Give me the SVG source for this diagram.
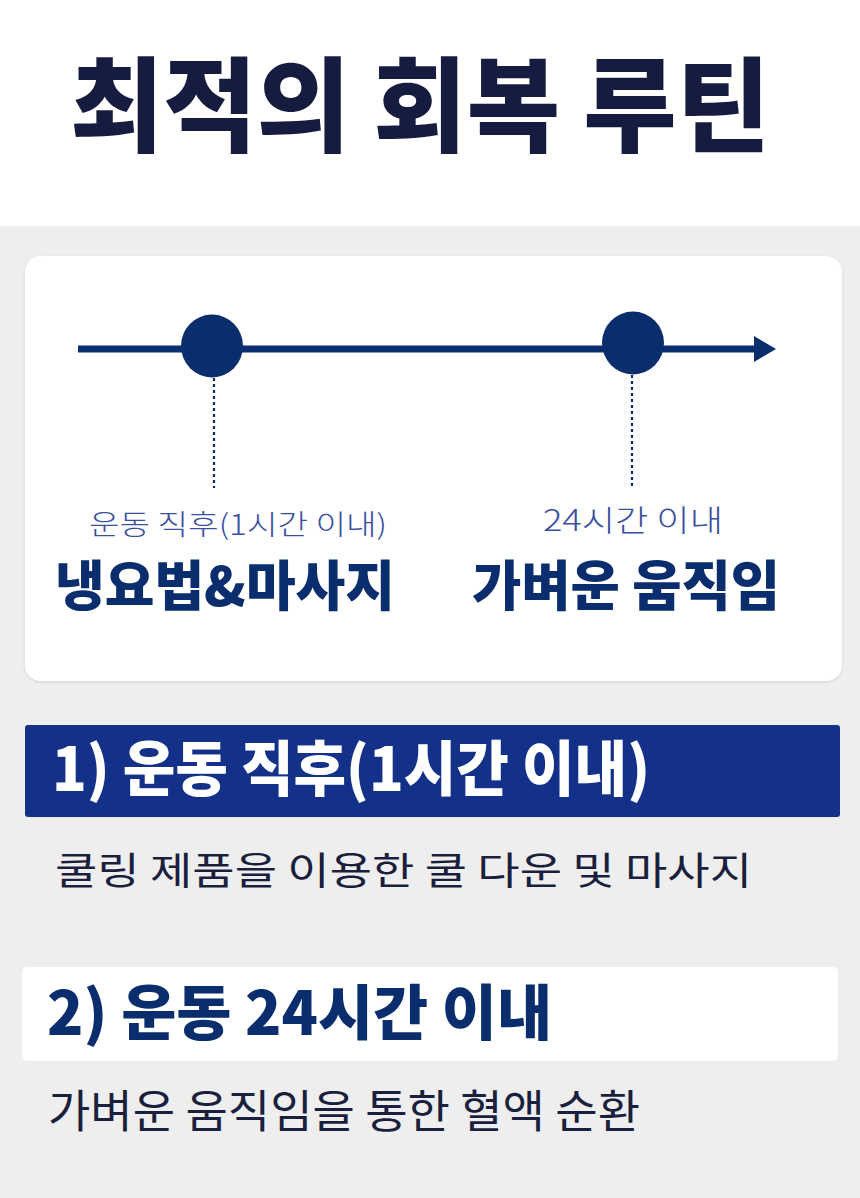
<svg xmlns="http://www.w3.org/2000/svg" width="860" height="1198" viewBox="0 0 860 1198">
<defs>
<style>
.k{font-family:"Noto Sans CJK KR","Noto Sans",sans-serif}
.title{font-size:103px;font-weight:900;fill:#161c3f}
.small{font-weight:300;fill:#3a4f9e}
.big{font-size:54px;font-weight:900;fill:#0a2d6e}
.head{font-size:60px;font-weight:900}
.desc{font-weight:400;fill:#1a1f3d}
.dot{stroke:#0a2d6e;stroke-width:2.2;stroke-dasharray:3 3;fill:none}
</style>
<marker id="arr" viewBox="0 0 22 26" refX="0" refY="13" markerWidth="22" markerHeight="26" orient="auto" markerUnits="userSpaceOnUse">
<path d="M0,0 L22,13 L0,26 Z" fill="#0a2d6e"/>
</marker>
<filter id="sh" x="-5%" y="-5%" width="110%" height="110%"><feDropShadow dx="0" dy="1" stdDeviation="1.5" flood-color="#000" flood-opacity="0.12"/></filter>
</defs>
<rect x="0" y="0" width="860" height="1198" fill="#eeeeee"/>
<rect x="0" y="0" width="860" height="226" fill="#ffffff"/>
<g id="title"><text class="k title" x="70" y="144" textLength="700" lengthAdjust="spacingAndGlyphs">최적의 회복 루틴</text></g>
<g id="card"><rect x="25" y="256" width="817" height="425" rx="16" fill="#ffffff" filter="url(#sh)"/></g>
<g id="connectors">
<line x1="78" y1="349" x2="754" y2="349" stroke="#0a2d6e" stroke-width="7" marker-end="url(#arr)"/>
<line class="dot" x1="214" y1="378" x2="214" y2="488"/>
<line class="dot" x1="632" y1="375" x2="632" y2="488"/>
</g>
<g id="node1">
<ellipse cx="212" cy="346" rx="31" ry="31.5" fill="#0a2d6e"/>
<text class="k small" x="89" y="535" font-size="28" textLength="298" lengthAdjust="spacingAndGlyphs">운동 직후(1시간 이내)</text>
<text class="k big" x="55" y="606" textLength="340" lengthAdjust="spacingAndGlyphs">냉요법&amp;마사지</text>
</g>
<g id="node2">
<ellipse cx="633" cy="343" rx="31" ry="31.5" fill="#0a2d6e"/>
<text class="k small" x="543" y="531" font-size="30" textLength="180" lengthAdjust="spacingAndGlyphs">24시간 이내</text>
<text class="k big" x="472" y="606" textLength="308" lengthAdjust="spacingAndGlyphs">가벼운 움직임</text>
</g>
<g id="section1">
<rect x="25" y="725" width="815" height="92" rx="3" fill="#14318a"/>
<text class="k head" x="52" y="791" fill="#ffffff" textLength="598" lengthAdjust="spacingAndGlyphs">1) 운동 직후(1시간 이내)</text>
<text class="k desc" x="55" y="884" font-size="38" textLength="697" lengthAdjust="spacingAndGlyphs">쿨링 제품을 이용한 쿨 다운 및 마사지</text>
</g>
<g id="section2">
<rect x="22" y="967" width="816" height="94" rx="5" fill="#ffffff"/>
<text class="k head" x="47" y="1035" fill="#0a2d6e" textLength="505" lengthAdjust="spacingAndGlyphs">2) 운동 24시간 이내</text>
<text class="k desc" x="48" y="1128" font-size="45" textLength="592" lengthAdjust="spacingAndGlyphs">가벼운 움직임을 통한 혈액 순환</text>
</g>
</svg>
